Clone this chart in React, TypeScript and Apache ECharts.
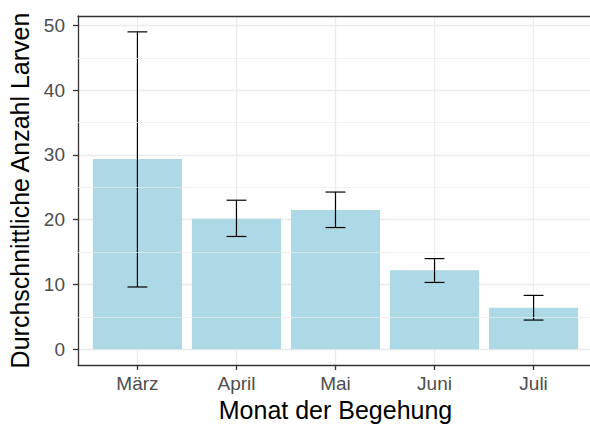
import React, { useEffect, useRef } from "react";
import * as echarts from "echarts";

const months = ["März", "April", "Mai", "Juni", "Juli"];
const monthPos = [1, 2, 3, 4, 5];
const meanValues = [29.37, 20.12, 21.47, 12.18, 6.4];
const lowerValues = [9.6, 17.4, 18.78, 10.3, 4.49];
const upperValues = [49.0, 23.0, 24.26, 13.98, 8.3];
const yMajorTicks = [0, 10, 20, 30, 40, 50];
const yMinorTicks = [5, 15, 25, 35, 45];

const FONT = "'Liberation Sans', Arial, sans-serif";

export default function App() {
  const ref = useRef<HTMLDivElement>(null);
  useEffect(() => {
    if (!ref.current) return;
    const chart = echarts.init(ref.current, undefined, { renderer: "svg" });
    const yMin = -2.45;
    const yMax = 51.45;
    const border = { color: "#333333", width: 1.3 };
    chart.setOption({
      animation: false,
      textStyle: { fontFamily: FONT },
      grid: {
        left: 78,
        top: 16,
        width: 515,
        bottom: 65,
        show: true,
        backgroundColor: "#FFFFFF",
        borderWidth: 0,
        containLabel: false,
        outerBoundsMode: "none",
      },
      xAxis: [
        {
          type: "value",
          min: 0.4,
          max: 5.6,
          name: "Monat der Begehung",
          nameLocation: "middle",
          nameGap: 32,
          nameTextStyle: { color: "#000000", fontSize: 25, fontFamily: FONT },
          axisLine: { show: true, onZero: false, lineStyle: border },
          axisTick: {
            show: true,
            length: 5,
            customValues: monthPos,
            lineStyle: border,
          },
          axisLabel: {
            customValues: monthPos,
            margin: 9,
            color: "#4D4D4D",
            fontSize: 19,
            fontFamily: FONT,
            formatter: (v: number) => months[Math.round(v) - 1] ?? "",
          },
          splitLine: { show: true, lineStyle: { color: "#EBEBEB", width: 1.3 } },
        },
        {
          type: "value",
          position: "top",
          min: 0.4,
          max: 5.6,
          axisLine: { show: true, onZero: false, lineStyle: border },
          axisTick: { show: false },
          axisLabel: { show: false },
          splitLine: { show: false },
        },
      ],
      yAxis: {
        type: "value",
        min: yMin,
        max: yMax,
        name: "Durchschnittliche Anzahl Larven",
        nameLocation: "middle",
        nameGap: 38,
        nameTextStyle: { color: "#000000", fontSize: 25, fontFamily: FONT },
        axisLine: { show: true, onZero: false, lineStyle: border },
        axisTick: {
          show: true,
          length: 5,
          customValues: yMajorTicks,
          lineStyle: border,
        },
        axisLabel: {
          customValues: yMajorTicks,
          margin: 13,
          color: "#4D4D4D",
          fontSize: 19,
          fontFamily: FONT,
        },
        splitLine: { show: true, lineStyle: { color: "#EBEBEB", width: 1.3 } },
      },
      series: [
        {
          type: "line",
          data: [],
          z: 1,
          silent: true,
          markLine: {
            silent: true,
            symbol: ["none", "none"],
            label: { show: false },
            lineStyle: { color: "#EBEBEB", width: 0.7, type: "solid" },
            data: yMinorTicks.map((v) => ({ yAxis: v })),
            animation: false,
          },
        },
        {
          type: "bar",
          z: 2,
          barWidth: "90%",
          itemStyle: { color: "#ADD8E6" },
          data: monthPos.map((x, i) => [x, meanValues[i]]),
        },
        {
          type: "custom",
          z: 3,
          data: monthPos.map((x, i) => [x, lowerValues[i], upperValues[i]]),
          renderItem: (params: any, api: any) => {
            const x = api.value(0);
            const lo = api.value(1);
            const hi = api.value(2);
            const pHi = api.coord([x, hi]);
            const pLo = api.coord([x, lo]);
            const half = api.size([0.1, 0])[0];
            const style = { stroke: "#000000", lineWidth: 1.2 };
            return {
              type: "group",
              children: [
                { type: "line", shape: { x1: pHi[0], y1: pHi[1], x2: pLo[0], y2: pLo[1] }, style },
                { type: "line", shape: { x1: pHi[0] - half, y1: pHi[1], x2: pHi[0] + half, y2: pHi[1] }, style },
                { type: "line", shape: { x1: pLo[0] - half, y1: pLo[1], x2: pLo[0] + half, y2: pLo[1] }, style },
              ],
            };
          },
        },
      ],
    });
    return () => chart.dispose();
  }, []);
  return (
    <div
      ref={ref}
      style={{ position: "fixed", left: 0, top: 0, width: 590, height: 430, background: "#FFFFFF" }}
    />
  );
}
